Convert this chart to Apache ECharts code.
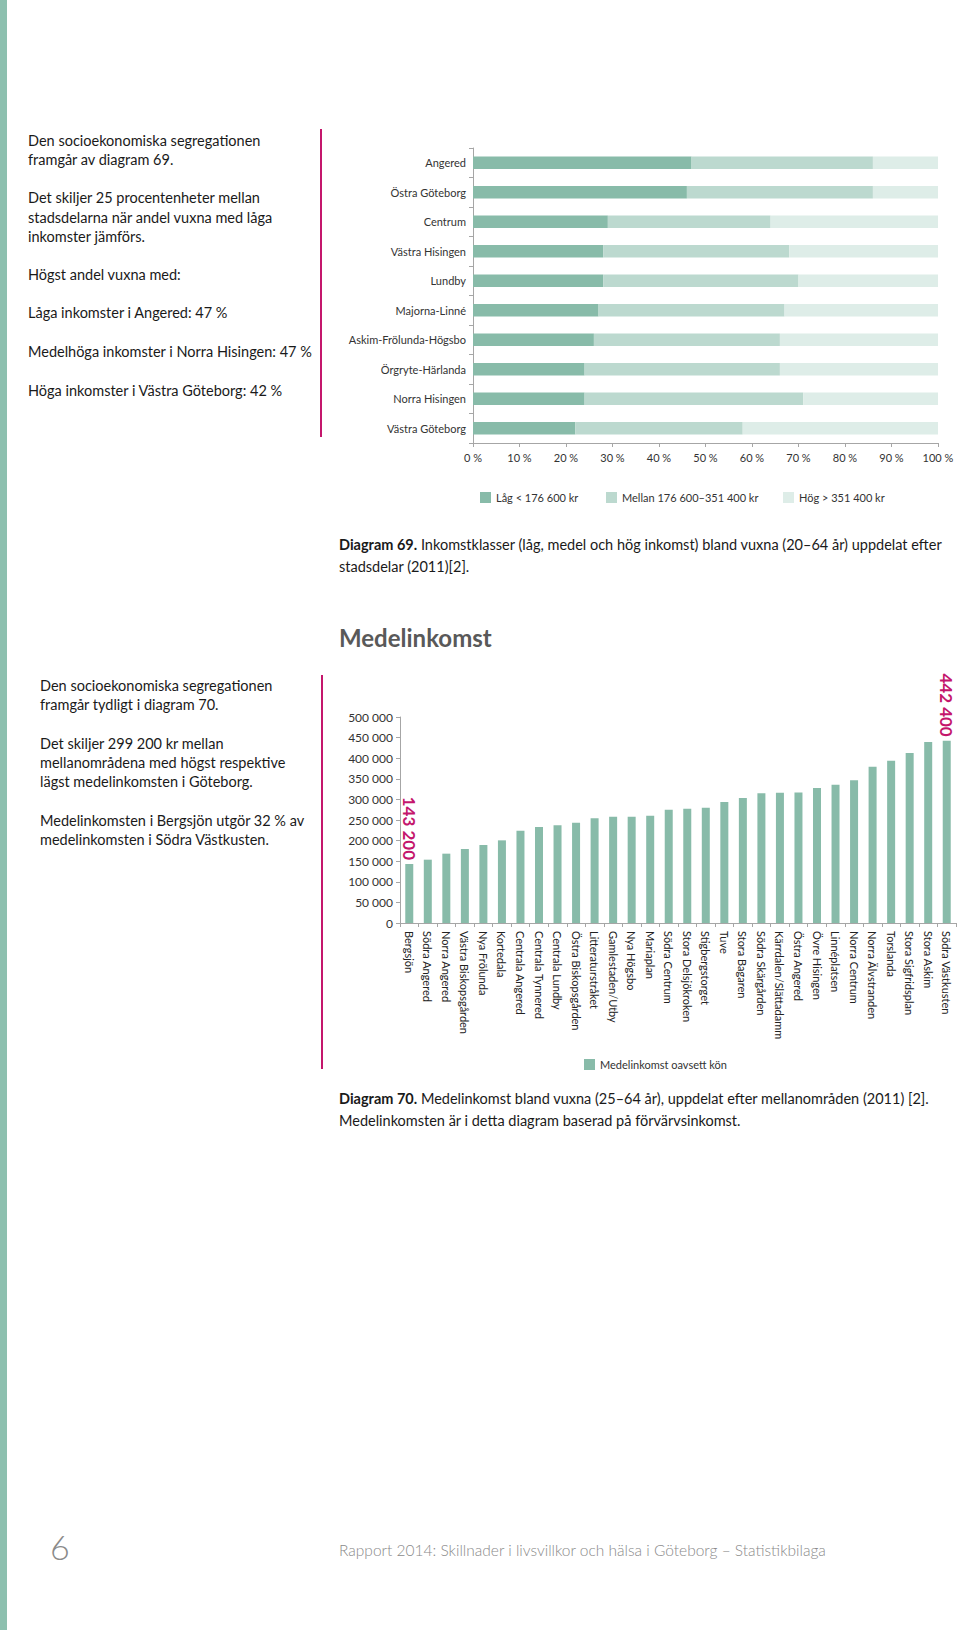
<!DOCTYPE html>
<html><head><meta charset="utf-8">
<script src="https://cdn.jsdelivr.net/npm/echarts@6/dist/echarts.min.js"></script>
<style>html,body{margin:0;padding:0;background:#fff}#c{width:960px;height:1630px}</style>
</head><body><div id="c"></div>
<script>
// ---- Diagram 69 data ----
const districts = ['Angered','Östra Göteborg','Centrum','Västra Hisingen','Lundby','Majorna-Linné','Askim-Frölunda-Högsbo','Örgryte-Härlanda','Norra Hisingen','Västra Göteborg'];
const lowShare  = [47, 46, 29, 28, 28, 27, 26, 24, 24, 22];
const midShare  = [39, 40, 35, 40, 42, 40, 40, 42, 47, 36];
const highShare = [14, 14, 36, 32, 30, 33, 34, 34, 29, 42];
const incomeClasses = ['Låg < 176 600 kr','Mellan 176 600–351 400 kr','Hög > 351 400 kr'];
const pctTicks = [0,10,20,30,40,50,60,70,80,90,100];

// ---- Diagram 70 data ----
const areas = ['Bergsjön','Södra Angered','Norra Angered','Västra Biskopsgården','Nya Frölunda','Kortedala','Centrala Angered','Centrala Tynnered','Centrala Lundby','Östra Biskopsgården','Litteraturstråket','Gamlestaden/Utby','Nya Högsbo','Mariaplan','Södra Centrum','Stora Delsjökroken','Stigbergstorget','Tuve','Stora Bagaren','Södra Skärgården','Kärrdalen/Slättadamm','Östra Angered','Övre Hisingen','Linnéplatsen','Norra Centrum','Norra Älvstranden','Torslanda','Stora Sigfridsplan','Stora Askim','Södra Västkusten'];
const meanIncome = [143200,153700,168300,179600,189300,200600,224100,233000,237000,243500,254000,258100,258100,260500,275100,277500,279900,293700,303400,314700,316300,316600,327700,335800,346300,379400,394000,412600,439300,442400];
const incomeSeriesName = 'Medelinkomst oavsett kön';
const highlighted = [0, 29];

const FONT = 'Lato, "DejaVu Sans", sans-serif';
const C_LOW = '#88bba9', C_MID = '#bcd9cf', C_HIGH = '#deede8';
const PINK = '#c4166c';
const AXIS = '#a6a6a6';
const BODY = 14.5;

function thousands(v){ return String(v).replace(/\B(?=(\d{3})+(?!\d))/g, ' '); }

function txt(x, y, text, opt){
  opt = opt || {};
  const size = opt.size || BODY;
  return {type:'text', left:x, top:y - size*0.6, silent:true,
    style:{text:text, x:0, y:0, fill:opt.color||'#1a1a1a', font:(opt.weight||'normal')+' '+size+'px '+FONT}};
}

const graphics = [
  {type:'rect', left:0, top:0, shape:{width:7, height:1630}, style:{fill:'#8dc0af'}, silent:true},
  {type:'line', shape:{x1:321,y1:129,x2:321,y2:437}, style:{stroke:PINK, lineWidth:2}, silent:true},
  {type:'line', shape:{x1:322,y1:675,x2:322,y2:1069}, style:{stroke:PINK, lineWidth:2}, silent:true},
  txt(28,142,'Den socioekonomiska segregationen'),
  txt(28,161,'framgår av diagram 69.'),
  txt(28,199,'Det skiljer 25 procentenheter mellan'),
  txt(28,219,'stadsdelarna när andel vuxna med låga'),
  txt(28,238,'inkomster jämförs.'),
  txt(28,276,'Högst andel vuxna med:'),
  txt(28,314,'Låga inkomster i Angered: 47 %'),
  txt(28,353,'Medelhöga inkomster i Norra Hisingen: 47 %'),
  txt(28,392,'Höga inkomster i Västra Göteborg: 42 %'),
  txt(40,687,'Den socioekonomiska segregationen'),
  txt(40,706,'framgår tydligt i diagram 70.'),
  txt(40,745,'Det skiljer 299 200 kr mellan'),
  txt(40,764,'mellanområdena med högst respektive'),
  txt(40,783,'lägst medelinkomsten i Göteborg.'),
  txt(40,822,'Medelinkomsten i Bergsjön utgör 32 % av'),
  txt(40,841,'medelinkomsten i Södra Västkusten.'),
  {type:'text', left:339, top:533, silent:true, style:{x:0,y:0, fill:'#1a1a1a', font:BODY+'px '+FONT,
    text:'{b|Diagram 69.} Inkomstklasser (låg, medel och hög inkomst) bland vuxna (20–64 år) uppdelat efter\nstadsdelar (2011)[2].',
    lineHeight:22, rich:{b:{font:'bold '+BODY+'px '+FONT, fill:'#1a1a1a'}}}},
  {type:'text', left:339, top:1087, silent:true, style:{x:0,y:0, fill:'#1a1a1a', font:BODY+'px '+FONT,
    text:'{b|Diagram 70.} Medelinkomst bland vuxna (25–64 år), uppdelat efter mellanområden (2011) [2].\nMedelinkomsten är i detta diagram baserad på förvärvsinkomst.',
    lineHeight:22, rich:{b:{font:'bold '+BODY+'px '+FONT, fill:'#1a1a1a'}}}},
  txt(339,640,'Medelinkomst',{size:24, weight:'bold', color:'#595959'}),
  txt(50,1550,'6',{size:34, weight:'300', color:'#8a8a8a'}),
  txt(339,1551,'Rapport 2014: Skillnader i livsvillkor och hälsa i Göteborg – Statistikbilaga',{size:15.5, weight:'300', color:'#8a8a8a'})
];

function shareSeries(name, data, color){
  return {name:name, type:'bar', stack:'s', xAxisIndex:0, yAxisIndex:0, data:data, barWidth:12.5,
    itemStyle:{color:color}, emphasis:{disabled:true}, animation:false};
}

const legendCommon = {itemWidth:11, itemHeight:11, icon:'rect', selectedMode:false, textStyle:{fontFamily:FONT, fontSize:11, color:'#333'}, itemGap:5, padding:0};

const option = {
  animation:false,
  textStyle:{fontFamily:FONT},
  graphic:graphics,
  grid:[
    {left:473, top:148, width:465, height:295},
    {left:400, top:717, width:556, height:206}
  ],
  xAxis:[
    {type:'value', gridIndex:0, min:0, max:100, interval:10, splitLine:{show:false},
      axisLine:{show:true, lineStyle:{color:AXIS}}, axisTick:{show:true, length:4, lineStyle:{color:AXIS}},
      axisLabel:{formatter:v => pctTicks.includes(v) ? v+' %' : '', fontSize:11, color:'#333', fontFamily:FONT, margin:9}},
    {type:'category', gridIndex:1, data:areas,
      axisLine:{show:true, lineStyle:{color:AXIS}}, axisTick:{show:true, length:4, lineStyle:{color:AXIS}},
      axisLabel:{rotate:-90, interval:0, fontSize:11, color:'#222', fontFamily:FONT, margin:8}}
  ],
  yAxis:[
    {type:'category', gridIndex:0, data:districts, inverse:true,
      axisLine:{show:true, lineStyle:{color:AXIS}}, axisTick:{show:true, length:4, lineStyle:{color:AXIS}},
      axisLabel:{fontSize:11, color:'#333', fontFamily:FONT, margin:7}},
    {type:'value', gridIndex:1, min:0, max:500000, interval:50000, splitLine:{show:false},
      axisLine:{show:true, lineStyle:{color:AXIS}}, axisTick:{show:true, length:4, lineStyle:{color:AXIS}},
      axisLabel:{formatter:v => thousands(v), fontSize:12, color:'#333', fontFamily:FONT, margin:7}}
  ],
  legend:[
    Object.assign({left:480, top:492, data:[incomeClasses[0]]}, legendCommon),
    Object.assign({left:606, top:492, data:[incomeClasses[1]]}, legendCommon),
    Object.assign({left:783, top:492, data:[incomeClasses[2]]}, legendCommon),
    Object.assign({left:584, top:1059, data:[incomeSeriesName]}, legendCommon)
  ],
  series:[
    shareSeries(incomeClasses[0], lowShare, C_LOW),
    shareSeries(incomeClasses[1], midShare, C_MID),
    shareSeries(incomeClasses[2], highShare, C_HIGH),
    {name:incomeSeriesName, type:'bar', xAxisIndex:1, yAxisIndex:1, barWidth:8,
      itemStyle:{color:C_LOW}, emphasis:{disabled:true},
      data:meanIncome.map((v,i) => highlighted.includes(i) ? {value:v, label:{show:true}} : v),
      label:{show:false, position:'top', distance:4, rotate:-90, align:'right', verticalAlign:'middle',
        formatter:p => thousands(p.value), color:PINK, fontWeight:'bold', fontSize:17, fontFamily:FONT}}
  ]
};

const chart = echarts.init(document.getElementById('c'), null, {renderer:'svg', width:960, height:1630});
chart.setOption(option);
</script>
</body></html>
